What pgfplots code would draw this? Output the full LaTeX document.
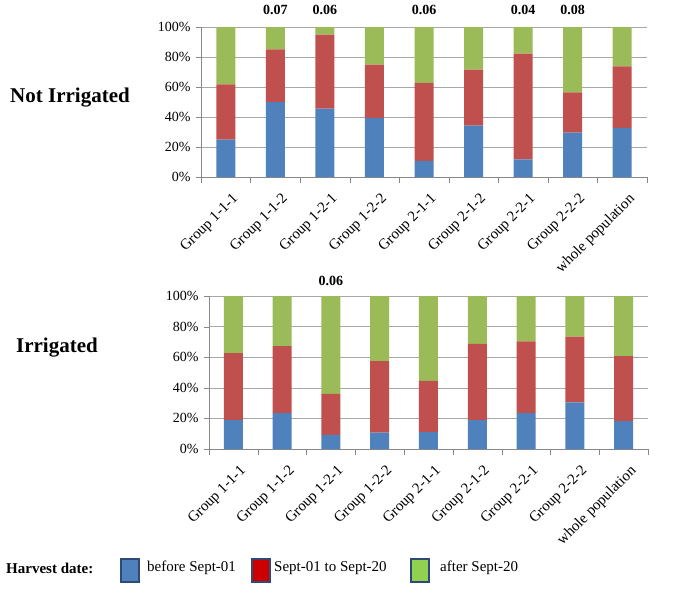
\documentclass[border=0pt]{standalone}
\usepackage{fontspec}
\setmainfont{Liberation Serif}
\usepackage{pgfplots}
\usepackage{pgfplotstable}
\pgfplotsset{compat=1.18}
\definecolor{cblue}{HTML}{4F81BD}
\definecolor{cred}{HTML}{C0504D}
\definecolor{cgreen}{HTML}{9BBB59}
\definecolor{gridc}{HTML}{A8A8A8}
\definecolor{axc}{HTML}{888888}
\definecolor{lgborder}{HTML}{2E4A78}

\pgfplotstableread{
x blue red green
0 25.0 36.8 38.2
1 50.0 35.1 14.9
2 45.6 49.3 5.1
3 39.3 35.6 25.1
4 10.7 52.0 37.3
5 34.2 37.4 28.4
6 11.8 70.4 17.8
7 29.6 26.8 43.6
8 32.7 41.1 26.2
}\notirr

\pgfplotstableread{
x blue red green
0 18.9 43.7 37.4
1 23.5 43.7 32.8
2 9.3 26.8 63.9
3 10.7 46.7 42.6
4 11.1 33.5 55.4
5 18.9 49.8 31.3
6 23.5 46.9 29.6
7 30.4 43.1 26.5
8 18.3 42.4 39.3
}\irr

\pgfplotsset{mystyle/.style={
  ybar stacked, bar width=19bp, scale only axis,
  xmin=-0.5, xmax=8.5, ymin=0, ymax=100,
  axis lines=left, axis line style={-, draw=axc},
  xtick={0,...,8},
  xticklabels={Group 1-1-1,Group 1-1-2,Group 1-2-1,Group 1-2-2,Group 2-1-1,Group 2-1-2,Group 2-2-1,Group 2-2-2,whole population},
  major x tick style={draw=none},
  minor xtick={-0.5,0.5,...,8.5},
  minor x tick style={draw=axc},
  xticklabel style={rotate=45, anchor=north east, font=\fontsize{15bp}{17bp}\selectfont, inner sep=1bp, yshift=-10bp, xshift=-2bp},
  ytick={0,20,...,100}, yticklabels={0\%,20\%,40\%,60\%,80\%,100\%},
  yticklabel style={font=\fontsize{14bp}{16bp}\selectfont, xshift=-2bp},
  y tick style={draw=axc},
  ymajorgrids, grid style={draw=gridc, line width=0.6pt},
  tick align=outside, major tick length=5bp, minor tick length=6bp,
  clip=false,
}}

\begin{document}
\begin{tikzpicture}
\useasboundingbox (0,0) rectangle (680bp,-599bp);

\begin{axis}[mystyle, at={(201bp,-177bp)}, anchor=south west, width=446bp, height=150bp]
\addplot[fill=cblue, draw=none] table[x=x, y=blue] {\notirr};
\addplot[fill=cred, draw=none] table[x=x, y=red] {\notirr};
\addplot[fill=cgreen, draw=none] table[x=x, y=green] {\notirr};
\node[font=\bfseries\fontsize{14bp}{16bp}\selectfont] at (axis cs:1,100) [yshift=17bp] {0.07};
\node[font=\bfseries\fontsize{14bp}{16bp}\selectfont] at (axis cs:2,100) [yshift=17bp] {0.06};
\node[font=\bfseries\fontsize{14bp}{16bp}\selectfont] at (axis cs:4,100) [yshift=17bp] {0.06};
\node[font=\bfseries\fontsize{14bp}{16bp}\selectfont] at (axis cs:6,100) [yshift=17bp] {0.04};
\node[font=\bfseries\fontsize{14bp}{16bp}\selectfont] at (axis cs:7,100) [yshift=17bp] {0.08};
\end{axis}

\begin{axis}[mystyle, at={(209bp,-449bp)}, anchor=south west, width=439bp, height=153bp]
\addplot[fill=cblue, draw=none] table[x=x, y=blue] {\irr};
\addplot[fill=cred, draw=none] table[x=x, y=red] {\irr};
\addplot[fill=cgreen, draw=none] table[x=x, y=green] {\irr};
\node[font=\bfseries\fontsize{14bp}{16bp}\selectfont] at (axis cs:2,100) [yshift=15bp] {0.06};
\end{axis}

\node[font=\bfseries\fontsize{21bp}{24bp}\selectfont] at (70bp,-98bp) {Not Irrigated};
\node[font=\bfseries\fontsize{21bp}{24bp}\selectfont] at (57bp,-348bp) {Irrigated};

% legend
\node[font=\bfseries\fontsize{15bp}{18bp}\selectfont, anchor=west, inner sep=0pt] at (6bp,-568bp) {Harvest date:};
\draw[draw=lgborder, line width=1.2bp, fill=cblue] (121bp,-559bp) rectangle (139bp,-582bp);
\node[font=\fontsize{15bp}{18bp}\selectfont, anchor=west, inner sep=0pt] at (147bp,-568bp) {before Sept-01};
\draw[draw=lgborder, line width=1.2bp, fill=red!80!black] (252bp,-559bp) rectangle (270bp,-582bp);
\node[font=\fontsize{15bp}{18bp}\selectfont, anchor=west, inner sep=0pt] at (274bp,-568bp) {Sept-01 to Sept-20};
\draw[draw=lgborder, line width=1.2bp, fill={rgb,255:red,146;green,208;blue,80}] (411bp,-559bp) rectangle (429bp,-582bp);
\node[font=\fontsize{15bp}{18bp}\selectfont, anchor=west, inner sep=0pt] at (440bp,-568bp) {after Sept-20};
\end{tikzpicture}
\end{document}
